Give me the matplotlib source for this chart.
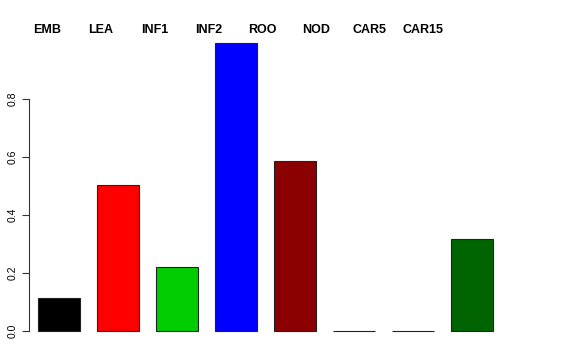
import numpy as np
import matplotlib
matplotlib.use("Agg")
import matplotlib.pyplot as plt
import matplotlib.transforms as mtransforms

# categories and values
categories = ["EMB", "LEA", "INF1", "INF2", "ROO", "NOD", "CAR5", "CAR15"]
values = [0.114, 0.503, 0.221, 0.993, 0.586, 0.0, 0.0, 0.317]
colors = ["#000000", "#FF0000", "#00CD00", "#0000FF", "#8B0000",
          "#BEBEBE", "#BEBEBE", "#006400"]
yticks = [0.0, 0.2, 0.4, 0.6, 0.8]

plt.rcParams["font.family"] = ["Liberation Sans", "DejaVu Sans"]

fig = plt.figure(figsize=(5.76, 3.6), dpi=100)
fig.set_facecolor("white")
W, H = 576, 360
ax = fig.add_axes([29 / W, (H - 331) / H, (503 - 29) / W, 290 / H])

x = np.arange(len(categories))
ax.bar(x, values, width=0.712, color=colors, edgecolor="#222222",
       linewidth=0.8, clip_on=False)

ax.set_xlim(-0.508, 7.525)
ax.set_ylim(0, 1.0)

for s in ["top", "right", "bottom"]:
    ax.spines[s].set_visible(False)
ax.spines["left"].set_bounds(0, 0.8)
ax.spines["left"].set_color("#333333")
ax.spines["left"].set_linewidth(0.8)
ax.set_xticks([])
ax.set_yticks(yticks)
ax.set_yticklabels([f"{v:.1f}" for v in yticks], rotation=90, va="center",
                   fontsize=7.5)
ax.tick_params(axis="y", length=5, width=0.8, color="#333333", pad=3)

# category labels along the top (offset from the bars, as in the original)
trans = mtransforms.blended_transform_factory(ax.transData, ax.transData)
for i, name in enumerate(categories):
    ax.text(-0.2 + 0.91 * i, 1.038, name, transform=trans, ha="center",
            va="center", fontsize=9, fontweight="bold", clip_on=False)

fig.savefig("out.png", dpi=100, facecolor="white")
